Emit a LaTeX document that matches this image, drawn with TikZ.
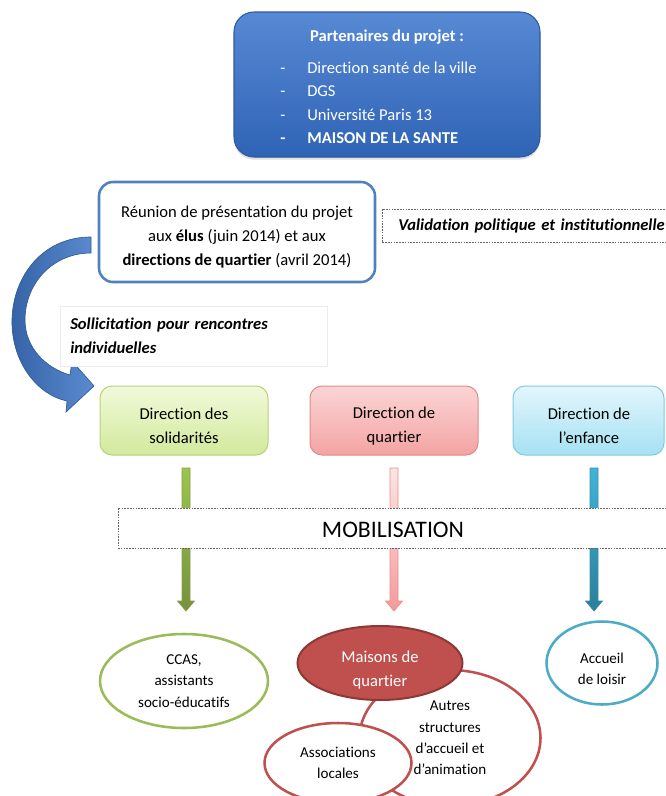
\documentclass[tikz,border=0pt]{standalone}
\usepackage{fontspec}
\setmainfont{Carlito}[Ligatures={NoCommon}]
\usetikzlibrary{shapes.geometric,shadows}
\definecolor{partTop}{HTML}{5789D4}
\definecolor{partBot}{HTML}{2F63B5}
\definecolor{partLine}{HTML}{2E5A9E}
\definecolor{reuLine}{HTML}{4F81BD}
\definecolor{gTop}{HTML}{F1F9DA}
\definecolor{gBot}{HTML}{D2EA9C}
\definecolor{gLine}{HTML}{B7D27C}
\definecolor{rTop}{HTML}{FBD5D5}
\definecolor{rBot}{HTML}{F4A3A3}
\definecolor{rLine}{HTML}{E08A8A}
\definecolor{bTop}{HTML}{E3F6FC}
\definecolor{bBot}{HTML}{A6E1F3}
\definecolor{bLine}{HTML}{7DCBE0}
\definecolor{gArrTop}{HTML}{9DC44C}
\definecolor{gArrBot}{HTML}{76923C}
\definecolor{rArrTop}{HTML}{FDE4E4}
\definecolor{rArrBot}{HTML}{F59A9A}
\definecolor{rArrLine}{HTML}{E88F8F}
\definecolor{bArrTop}{HTML}{40B4D8}
\definecolor{bArrBot}{HTML}{2A7F9A}
\definecolor{ellG}{HTML}{9BBB59}
\definecolor{ellB}{HTML}{4BACC6}
\definecolor{ellR}{HTML}{C0504D}
\definecolor{ellRdark}{HTML}{8C3836}
\definecolor{curvL}{HTML}{3563A6}
\definecolor{curvR}{HTML}{5A8AD0}
\definecolor{curvLine}{HTML}{2F5B94}
\newcommand\vArrow[6]{%
  \path[top color=#4, bottom color=#5, draw=#6, line width=0.5pt]
    (#1-4,#2) -- (#1+4,#2) -- (#1+4,#3-10) -- (#1+8.5,#3-10) -- (#1,#3)
    -- (#1-8.5,#3-10) -- (#1-4,#3-10) -- cycle;}
\begin{document}
\begin{tikzpicture}[x=0.75pt,y=-0.75pt,
  txt/.style={font=\fontsize{12.45pt}{18pt}\selectfont, inner sep=0pt},
  stxt/.style={font=\fontsize{11.3pt}{16.1pt}\selectfont, inner sep=0pt, align=center},
  wtxt/.style={txt, text=white},
  dirbox/.style={rounded corners=9pt, line width=0.75pt, inner sep=0pt,
    minimum width=126pt, minimum height=51.75pt},
  dashbox/.style={draw=black!60, dash pattern=on 1.2pt off 0.9pt, line width=0.45pt,
    fill=white, inner sep=0pt},
  ell/.style={ellipse, line width=1.9pt, fill=white, inner sep=0pt, align=center,
    font=\fontsize{11.3pt}{16.1pt}\selectfont},
]
\useasboundingbox (0,0) rectangle (665,796);

% Partenaires
\node[rounded corners=15pt, top color=partTop, bottom color=partBot, draw=partLine,
  line width=0.8pt, minimum width=229.5pt, minimum height=108.75pt, inner sep=0pt,
  drop shadow={opacity=0.25, shadow xshift=0pt, shadow yshift=-2pt}]
  (part) at (387,84.5) {};
\node[wtxt, anchor=base] (ptitle) at (387,41) {\textbf{Partenaires du projet :}};
\node[wtxt, anchor=base] (pd1) at (283,73) {-};
\node[wtxt, anchor=base] (pd2) at (283,96) {-};
\node[wtxt, anchor=base] (pd3) at (283,120) {-};
\node[wtxt, anchor=base] (pd4) at (283,143) {\textbf{-}};
\node[wtxt, anchor=base west] (pi1) at (307,73) {Direction santé de la ville};
\node[wtxt, anchor=base west] (pi2) at (307,96) {DGS};
\node[wtxt, anchor=base west] (pi3) at (307,120) {Université Paris 13};
\node[wtxt, anchor=base west] (pi4) at (307,143) {\textbf{MAISON DE LA SANTE}};

% Curved arrow
\path[left color=curvL, right color=curvR, draw=curvLine, line width=0.5pt]
  (91,237) .. controls (40,237) and (11,280) .. (12,324)
  .. controls (13,364) and (38,395) .. (67,401)
  -- (66,412) -- (94,386) -- (72,361) -- (70,375)
  .. controls (46,368) and (25,348) .. (25,320)
  .. controls (25,284) and (52,253) .. (91,253) -- cycle;

% Reunion
\node[rounded corners=10.5pt, draw=reuLine, line width=1.9pt, fill=white,
  minimum width=207pt, minimum height=75pt, inner sep=0pt] (reu) at (237,232) {};
\node[txt, align=center] (reutxt) at (237,237)
  {Réunion de présentation du projet\\ aux \textbf{élus} (juin 2014) et aux\\
   \textbf{directions de quartier} (avril 2014)};

% Validation
\node[txt, dashbox, anchor=west, minimum height=24.75pt, inner xsep=12pt,
  text width=205pt, align=left] (valid) at (382,225.5)
  {\textbf{\textit{Validation politique et institutionnelle}}};

% Sollicitation
\node[txt, draw=black!8, line width=0.4pt, fill=white, anchor=west, minimum height=45pt,
  inner xsep=7.5pt, text width=185pt, align=left] (soll) at (60,336)
  {\textbf{\textit{Sollicitation pour rencontres\\ individuelles}}};

% Direction boxes
\node[dirbox, top color=gTop, bottom color=gBot, draw=gLine] (dg) at (184,420.5) {};
\node[dirbox, top color=rTop, bottom color=rBot, draw=rLine] (dq) at (394,420.5) {};
\node[dirbox, top color=bTop, bottom color=bBot, draw=bLine, minimum width=113.25pt]
  (de) at (588.5,420.5) {};
\node[txt, align=center] (dgt) at (184,426) {Direction des\\ solidarités};
\node[txt, align=center] (dqt) at (394,426) {Direction de\\ quartier};
\node[txt, align=center] (det) at (589,426) {Direction de\\ l’enfance};

% Vertical arrows
\coordinate (ga1) at (186,468); \coordinate (ga2) at (186,611);
\coordinate (ra1) at (394,468); \coordinate (ra2) at (394,611);
\coordinate (ba1) at (594,468); \coordinate (ba2) at (594,611);
\vArrow{186}{468}{611}{gArrTop}{gArrBot}{gArrBot!90}
\vArrow{394}{468}{611}{rArrTop}{rArrBot}{rArrLine}
\vArrow{594}{468}{611}{bArrTop}{bArrBot}{bArrBot!90}

% Mobilisation
\node[dashbox, minimum width=429pt, minimum height=30pt] (mob) at (404,528) {};
\node[inner sep=0pt, font=\fontsize{17.8pt}{20pt}\selectfont] (mobt) at (393,530)
  {MOBILISATION};

% Ellipses
\node[ell, draw=ellG, minimum width=126pt, minimum height=70.5pt] (ccas) at (184,681)
  {CCAS,\\ assistants\\ socio-éducatifs};
\node[ell, draw=ellB, minimum width=83.25pt, minimum height=62.25pt] (acc) at (602,663) {};
\node[stxt] (acct) at (602,669) {Accueil\\ de loisir};
\node[ell, draw=ellR, minimum width=135.75pt, minimum height=102pt] (autres) at (450,738)
  {Autres\\ structures\\ d’accueil et\\ d’animation};
\node[ell, draw=ellR, minimum width=110.25pt, minimum height=60pt] (asso) at (338,763)
  {Associations\\ locales};
\node[ell, draw=ellRdark, fill=ellR, line width=1.5pt,
  minimum width=123.75pt, minimum height=55.5pt] (mq) at (380,663) {};
\node[txt, align=center, text=white] (mqt) at (380,670) {Maisons de\\ quartier};
\end{tikzpicture}
\end{document}
